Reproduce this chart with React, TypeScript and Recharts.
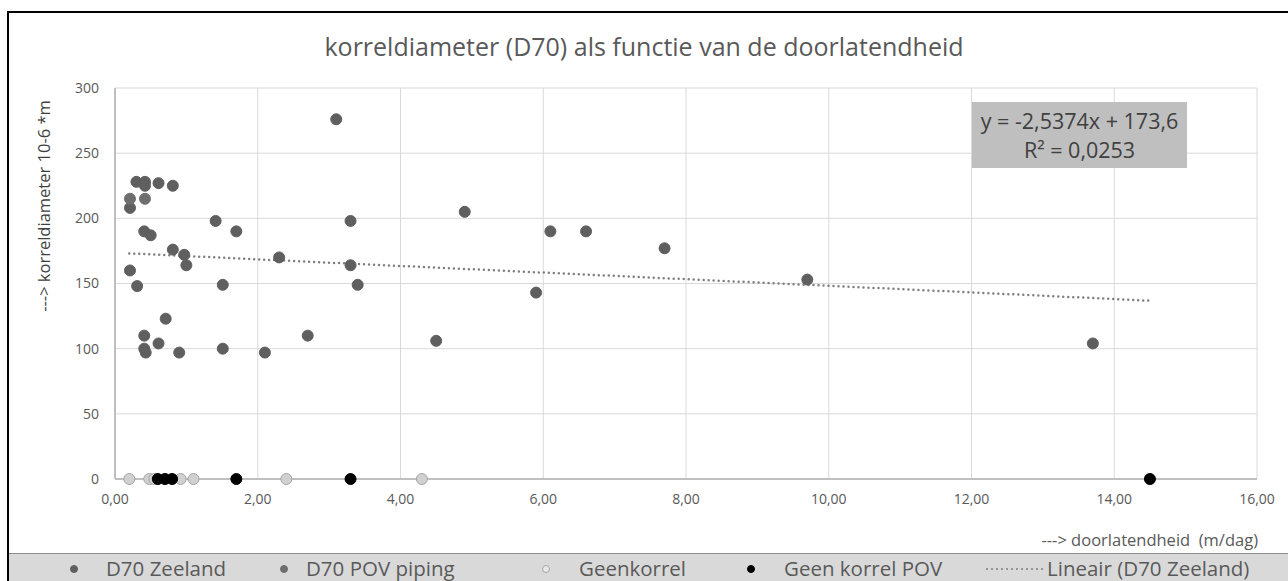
import { ScatterChart, Scatter, XAxis, YAxis, CartesianGrid, ReferenceLine } from "recharts";

// D70 Zeeland (x = doorlatendheid m/dag, y = korreldiameter)
const zeelandX = [0.3, 0.42, 0.42, 0.61, 0.81, 0.21, 0.41, 0.5, 1.41, 1.7, 0.81, 0.97, 1.0, 2.3, 0.21, 0.31, 1.51, 0.71, 0.41, 2.7, 0.61, 0.41, 0.43, 0.9, 1.51, 2.1, 3.1, 3.3, 4.9, 6.1, 6.6, 7.7, 3.3, 3.4, 5.9, 4.5, 9.7, 13.7];
const zeelandY = [228, 228, 225, 227, 225, 208, 190, 187, 198, 190, 176, 172, 164, 170, 160, 148, 149, 123, 110, 110, 104, 100, 97, 97, 100, 97, 276, 198, 205, 190, 190, 177, 164, 149, 143, 106, 153, 104];

const povX = [0.21, 0.42];
const povY = [215, 215];

const geenkorrelX = [0.2, 0.48, 0.55, 0.92, 1.1, 2.4, 4.3];
const geenKorrelPovX = [0.6, 0.7, 0.8, 1.7, 3.3, 14.5];

const xTicks = [0, 2, 4, 6, 8, 10, 12, 14, 16];
const yTicks = [0, 50, 100, 150, 200, 250, 300];

const slope = -2.5374;
const intercept = 173.6;
const trendX = [0.2, 14.5];

const zeeland = zeelandX.map((x, i) => ({ x, y: zeelandY[i] }));
const pov = povX.map((x, i) => ({ x, y: povY[i] }));
const geen = geenkorrelX.map((x) => ({ x, y: 0 }));
const geenPov = geenKorrelPovX.map((x) => ({ x, y: 0 }));

const FONT = "'Open Sans', 'DejaVu Sans', sans-serif";
const TXT = "#595959";

const dot = (fill: string, stroke?: string) => (props: any) => (
  <circle cx={props.cx} cy={props.cy} r={5.5} fill={fill} stroke={stroke || fill} strokeWidth={1} />
);

const fmt = (v: number) => v.toFixed(2).replace(".", ",");

function LegendItem({ left, markerX, label, fill, stroke }: any) {
  return (
    <>
      <svg style={{ position: "absolute", left: markerX - 5, top: 564 }} width={10} height={10}>
        <circle cx={5} cy={5} r={3.5} fill={fill} stroke={stroke || fill} />
      </svg>
      <div style={{ position: "absolute", left, top: 554, fontSize: 20.5, color: TXT, whiteSpace: "nowrap" }}>{label}</div>
    </>
  );
}

export default function App() {
  return (
    <div style={{ position: "absolute", left: 0, top: 0, width: 1288, height: 581, overflow: "hidden", background: "#fff", fontFamily: FONT }}>
      {/* outer frame */}
      <div style={{ position: "absolute", left: 7, top: 11, width: 1300, height: 600, border: "2px solid #000", boxSizing: "border-box" }} />
      {/* legend band */}
      <div style={{ position: "absolute", left: 9, top: 553, width: 1290, height: 40, background: "#d9d9d9", borderTop: "1px solid #8c8c8c" }} />

      <div style={{ position: "absolute", left: 0, top: 29, width: 1288, textAlign: "center", fontSize: 25, color: TXT }}>
        korreldiameter (D70) als functie van de doorlatendheid
      </div>

      <div style={{ position: "absolute", left: 43, top: 206, transform: "translate(-50%, -50%) rotate(-90deg)", fontSize: 16.5, color: "#404040", whiteSpace: "nowrap" }}>
        ---&gt; korreldiameter 10-6 *m
      </div>

      <div style={{ position: "absolute", right: 30, top: 528, fontSize: 16.5, color: TXT, whiteSpace: "pre" }}>
        ---&gt; doorlatendheid  (m/dag)
      </div>

      <div style={{ position: "absolute", left: 0, top: 0 }}>
        <ScatterChart width={1288} height={581} margin={{ top: 88, right: 31, left: 55, bottom: 72 }}>
          <CartesianGrid stroke="#d9d9d9" strokeWidth={1} />
          <XAxis
            type="number"
            dataKey="x"
            domain={[0, 16]}
            ticks={xTicks}
            tickFormatter={fmt}
            height={30}
            axisLine={{ stroke: "#bfbfbf", strokeWidth: 2 }}
            tickLine={false}
            tickMargin={9}
            tick={{ fill: TXT, fontSize: 14, fontFamily: FONT }}
          />
          <YAxis
            type="number"
            dataKey="y"
            domain={[0, 300]}
            ticks={yTicks}
            width={60}
            axisLine={{ stroke: "#bfbfbf", strokeWidth: 2 }}
            tickLine={false}
            tickMargin={10}
            tick={{ fill: TXT, fontSize: 14, fontFamily: FONT }}
          />
          <ReferenceLine
            segment={trendX.map((x) => ({ x, y: slope * x + intercept }))}
            stroke="#7f7f7f"
            strokeWidth={2.5}
            strokeDasharray="0 5"
            strokeLinecap="round"
            ifOverflow="visible"
          />
          <Scatter data={geen} shape={dot("#d0d0d0", "#a6a6a6")} isAnimationActive={false} />
          <Scatter data={zeeland} shape={dot("#5f5f5f")} isAnimationActive={false} />
          <Scatter data={pov} shape={dot("#6e6e6e")} isAnimationActive={false} />
          <Scatter data={geenPov} shape={dot("#000")} isAnimationActive={false} />
        </ScatterChart>
      </div>

      {/* trendline label */}
      <div style={{ position: "absolute", left: 972, top: 102, width: 215, height: 66, background: "#bfbfbf", color: "#404040", fontSize: 21.5, textAlign: "center", lineHeight: "29px", paddingTop: 4, boxSizing: "border-box", whiteSpace: "nowrap" }}>
        y = -2,5374x + 173,6
        <br />
        R² = 0,0253
      </div>

      <LegendItem markerX={74} left={106} label="D70 Zeeland" fill="#5f5f5f" />
      <LegendItem markerX={284} left={306} label="D70 POV piping" fill="#6e6e6e" />
      <LegendItem markerX={546} left={579} label="Geenkorrel" fill="#e8e8e8" stroke="#a6a6a6" />
      <LegendItem markerX={751} left={784} label="Geen korrel POV" fill="#000" />
      <svg style={{ position: "absolute", left: 984, top: 566 }} width={64} height={6}>
        <line x1={3} y1={3} x2={61} y2={3} stroke="#7f7f7f" strokeWidth={2} strokeDasharray="0 5" strokeLinecap="round" />
      </svg>
      <div style={{ position: "absolute", left: 1047, top: 554, fontSize: 20.5, color: TXT, whiteSpace: "nowrap" }}>Lineair (D70 Zeeland)</div>
    </div>
  );
}
